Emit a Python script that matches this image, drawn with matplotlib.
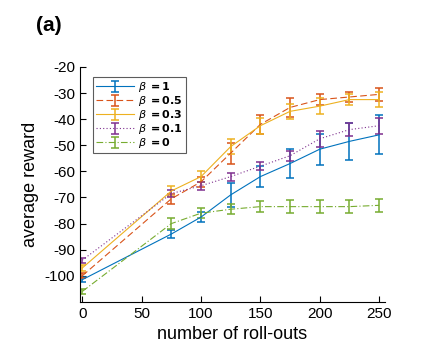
import matplotlib.pyplot as plt

plt.rcParams['font.family'] = ['Liberation Sans', 'DejaVu Sans']
plt.rcParams['mathtext.fontset'] = 'dejavusans'
plt.rcParams['axes.unicode_minus'] = False

# number of roll-outs
rollouts = [0, 75, 100, 125, 150, 175, 200, 225, 250]

# mean reward and error per beta
beta_labels = ['1', '0.5', '0.3', '0.1', '0']
reward_b1 = [-101.5, -84, -77.5, -69, -62, -57, -51.5, -48.5, -46]
err_b1 = [1, 1.5, 2, 4.5, 4, 5.5, 6, 7, 7.5]
reward_b05 = [-100, -70.5, -64, -53, -42, -35.5, -32.5, -31.5, -30.5]
err_b05 = [1, 2, 2, 4, 3.5, 3.5, 2, 2, 2.5]
reward_b03 = [-97, -67.5, -62, -50.5, -42.5, -37, -35, -32.5, -32.5]
err_b03 = [1, 2, 2, 3, 3, 3, 3, 2, 3]
reward_b01 = [-94, -68.5, -65.5, -62, -58, -54, -47.5, -44, -42.5]
err_b01 = [1, 1.5, 1.5, 1.5, 1.5, 2, 3, 2.5, 3]
reward_b0 = [-106, -80, -76, -74.5, -73.5, -73.5, -73.5, -73.5, -73]
err_b0 = [1, 2, 2, 2, 2, 2.5, 2.5, 2.5, 2.5]

series = [reward_b1, reward_b05, reward_b03, reward_b01, reward_b0]
errors = [err_b1, err_b05, err_b03, err_b01, err_b0]
colors = ['#0072BD', '#D95319', '#EDB120', '#7E2F8E', '#77AC30']
styles = ['-', (0, (6, 3)), '-', (0, (1, 2)), (0, (6, 2, 1, 2))]

fig = plt.figure(figsize=(4.25, 3.62), dpi=100)
ax = fig.add_axes([0.188, 0.166, 0.718, 0.649])

for vals, err, lab, c, ls in zip(series, errors, beta_labels, colors, styles):
    ax.errorbar(rollouts, vals, yerr=err, color=c, linestyle=ls, linewidth=0.8,
                elinewidth=1.1, capsize=3, capthick=1.1,
                label=r'$\beta$ $\mathbf{= ' + lab + '}$')

ax.set_xlim(-2, 255)
ax.set_ylim(-110, -20)
ax.set_xticks([0, 50, 100, 150, 200, 250])
ax.set_yticks(range(-100, -19, 10))
ax.tick_params(direction='in', labelsize=11, length=4, width=0.8)
ax.spines['top'].set_visible(False)
ax.spines['right'].set_visible(False)
ax.set_xlabel('number of roll-outs', fontsize=13)
ax.set_ylabel('average reward', fontsize=13)

leg = ax.legend(loc='upper left', bbox_to_anchor=(0.025, 0.98), fontsize=8,
                frameon=True, fancybox=False, edgecolor='#333333',
                handlelength=3.4, labelspacing=0.0, borderpad=0.25,
                handletextpad=0.4)
leg.get_frame().set_linewidth(0.8)

fig.text(0.085, 0.915, '(a)', fontsize=15, fontweight='bold')

fig.savefig('out.png', dpi=100)
